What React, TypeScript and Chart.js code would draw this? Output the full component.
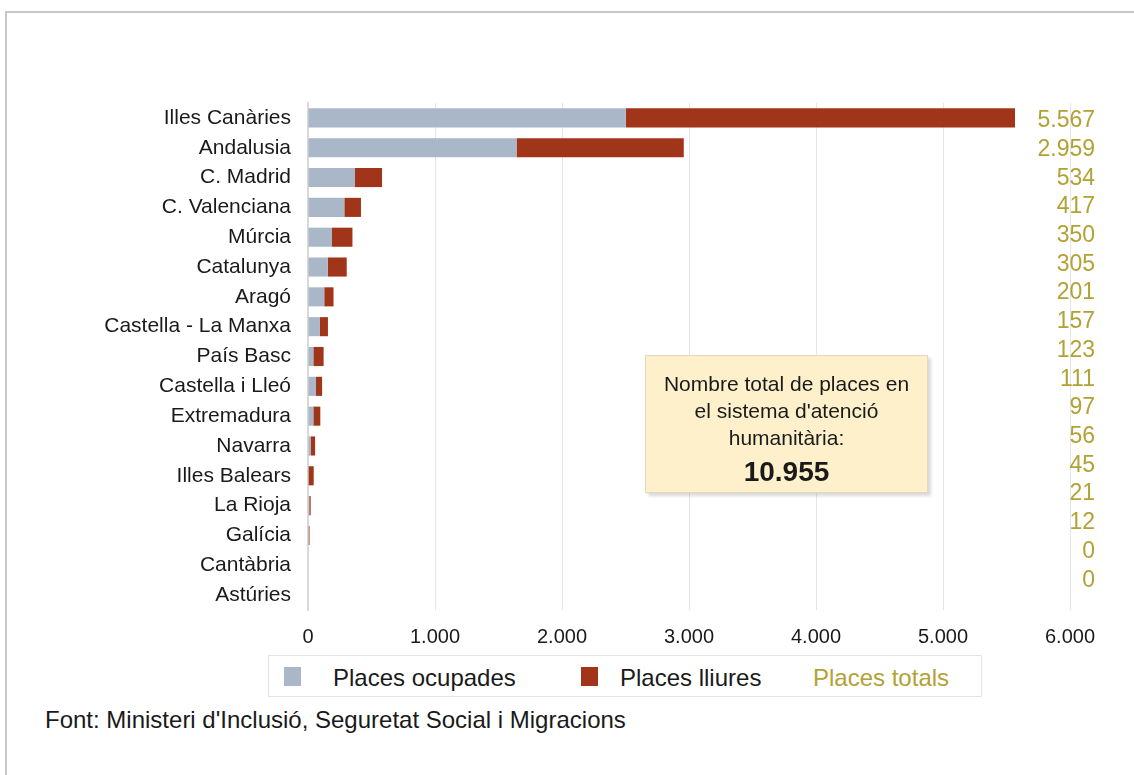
import React, { useEffect, useRef } from "react";
import { Chart, registerables } from "chart.js";

Chart.register(...registerables);

const categories = [
  "Illes Canàries",
  "Andalusia",
  "C. Madrid",
  "C. Valenciana",
  "Múrcia",
  "Catalunya",
  "Aragó",
  "Castella - La Manxa",
  "País Basc",
  "Castella i Lleó",
  "Extremadura",
  "Navarra",
  "Illes Balears",
  "La Rioja",
  "Galícia",
  "Cantàbria",
  "Astúries",
];

const placesOcupades = [2502, 1642, 370, 286, 189, 155, 128, 94, 42, 63, 42, 20, 5, 10, 6, 0, 0];
const placesLliures = [3065, 1317, 213, 131, 161, 150, 73, 63, 81, 48, 55, 36, 40, 11, 6, 0, 0];
const placesTotals = [5567, 2959, 534, 417, 350, 305, 201, 157, 123, 111, 97, 56, 45, 21, 12, 0, 0];
const totalGeneral = "10.955";

const xTicks = [0, 1000, 2000, 3000, 4000, 5000, 6000];

const FONT = '"Liberation Sans", Arial, Helvetica, sans-serif';
const BLUE = "#a9b7c9";
const RED = "#a1351a";
const OLIVE = "#b2a235";

const fmt = (v: number) => {
  const s = Math.round(v).toString();
  return s.replace(/\B(?=(\d{3})+(?!\d))/g, ".");
};

// The totals column in the source is set slightly tighter than the bar rows.
const TOTALS_ROW_SCALE = 0.9625;
const TOTALS_ROW_SHIFT = 0.067;

const totalsPlugin = {
  id: "totalsLabels",
  afterDraw(chart: any) {
    const ctx = chart.ctx;
    const ys = chart.scales.y;
    ctx.save();
    ctx.font = `23px ${FONT}`;
    ctx.fillStyle = OLIVE;
    ctx.textAlign = "right";
    ctx.textBaseline = "middle";
    placesTotals.forEach((t, i) => {
      const y = ys.getPixelForValue(i * TOTALS_ROW_SCALE + TOTALS_ROW_SHIFT);
      ctx.fillText(fmt(t), chart.chartArea.right + 25, y + 1);
    });
    ctx.restore();
  },
};

export default function App() {
  const ref = useRef<HTMLCanvasElement | null>(null);

  useEffect(() => {
    if (!ref.current) return;
    const chart = new Chart(ref.current, {
      type: "bar",
      data: {
        labels: categories,
        datasets: [
          {
            label: "Places ocupades",
            data: placesOcupades,
            backgroundColor: BLUE,
            barPercentage: 0.64,
            categoryPercentage: 1,
          },
          {
            label: "Places lliures",
            data: placesLliures,
            backgroundColor: RED,
            barPercentage: 0.64,
            categoryPercentage: 1,
          },
        ],
      },
      options: {
        indexAxis: "y",
        responsive: false,
        animation: false,
        layout: { padding: { top: 103, left: 0, right: 64, bottom: 0 } },
        plugins: {
          legend: { display: false },
          tooltip: { enabled: false },
        },
        scales: {
          x: {
            stacked: true,
            min: 0,
            max: 6000,
            afterBuildTicks: (s: any) => {
              s.ticks = xTicks.map((v) => ({ value: v }));
            },
            afterFit: (s: any) => {
              s.height = 50;
            },
            grid: { color: "#e6e6e6", drawTicks: false, lineWidth: 1 },
            border: { display: false },
            ticks: {
              padding: 15,
              color: "#1a1a1a",
              font: { family: FONT, size: 20 },
              callback: (v: any) => fmt(Number(v)),
              maxRotation: 0,
            },
          },
          y: {
            stacked: true,
            afterFit: (s: any) => {
              s.width = 308;
            },
            grid: { display: false, drawTicks: false },
            border: { display: true, color: "#d9d9d9", width: 2 },
            ticks: {
              padding: 17,
              color: "#1a1a1a",
              font: { family: FONT, size: 21 },
              autoSkip: false,
            },
          },
        },
      },
      plugins: [totalsPlugin],
    } as any);
    return () => chart.destroy();
  }, []);

  const text = { fontFamily: FONT, color: "#1a1a1a" } as React.CSSProperties;

  return (
    <div
      style={{
        position: "absolute",
        left: 0,
        top: 0,
        width: 1134,
        height: 775,
        background: "#fff",
        overflow: "hidden",
      }}
    >
      <div
        style={{
          position: "absolute",
          left: 5,
          top: 11,
          width: 1200,
          height: 900,
          borderTop: "2px solid #c6c6d0",
          borderLeft: "2px solid #c6c6d0",
        }}
      />
      <canvas
        ref={ref}
        width={1134}
        height={660}
        style={{ position: "absolute", left: 0, top: 0, width: 1134, height: 660 }}
      />
      <div
        style={{
          position: "absolute",
          left: 645,
          top: 355,
          width: 283,
          height: 138,
          boxSizing: "border-box",
          background: "#fdf0cb",
          border: "1px solid #e2d9bd",
          boxShadow: "3px 3px 3px rgba(0,0,0,0.15)",
          textAlign: "center",
          paddingTop: 14,
          ...text,
        }}
      >
        <div style={{ fontSize: 21, lineHeight: "27px" }}>
          Nombre total de places en
          <br />
          el sistema d'atenció
          <br />
          humanitària:
        </div>
        <div style={{ fontSize: 28, fontWeight: "bold", lineHeight: "42px" }}>{totalGeneral}</div>
      </div>
      <div
        style={{
          position: "absolute",
          left: 268,
          top: 655,
          width: 714,
          height: 42,
          boxSizing: "border-box",
          border: "1px solid #e3e3e3",
          background: "#fff",
          ...text,
        }}
      >
        <div style={{ position: "absolute", left: 15, top: 11, width: 17, height: 19, background: BLUE }} />
        <div style={{ position: "absolute", left: 64, top: 8, fontSize: 24, lineHeight: "28px", whiteSpace: "nowrap" }}>
          Places ocupades
        </div>
        <div style={{ position: "absolute", left: 312, top: 11, width: 17, height: 19, background: RED }} />
        <div style={{ position: "absolute", left: 351, top: 8, fontSize: 24, lineHeight: "28px", whiteSpace: "nowrap" }}>
          Places lliures
        </div>
        <div
          style={{
            position: "absolute",
            left: 544,
            top: 8,
            fontSize: 24,
            lineHeight: "28px",
            whiteSpace: "nowrap",
            color: OLIVE,
          }}
        >
          Places totals
        </div>
      </div>
      <div
        style={{
          position: "absolute",
          left: 45,
          top: 706,
          fontSize: 24,
          lineHeight: "28px",
          whiteSpace: "nowrap",
          ...text,
        }}
      >
        Font: Ministeri d'Inclusió, Seguretat Social i Migracions
      </div>
    </div>
  );
}
